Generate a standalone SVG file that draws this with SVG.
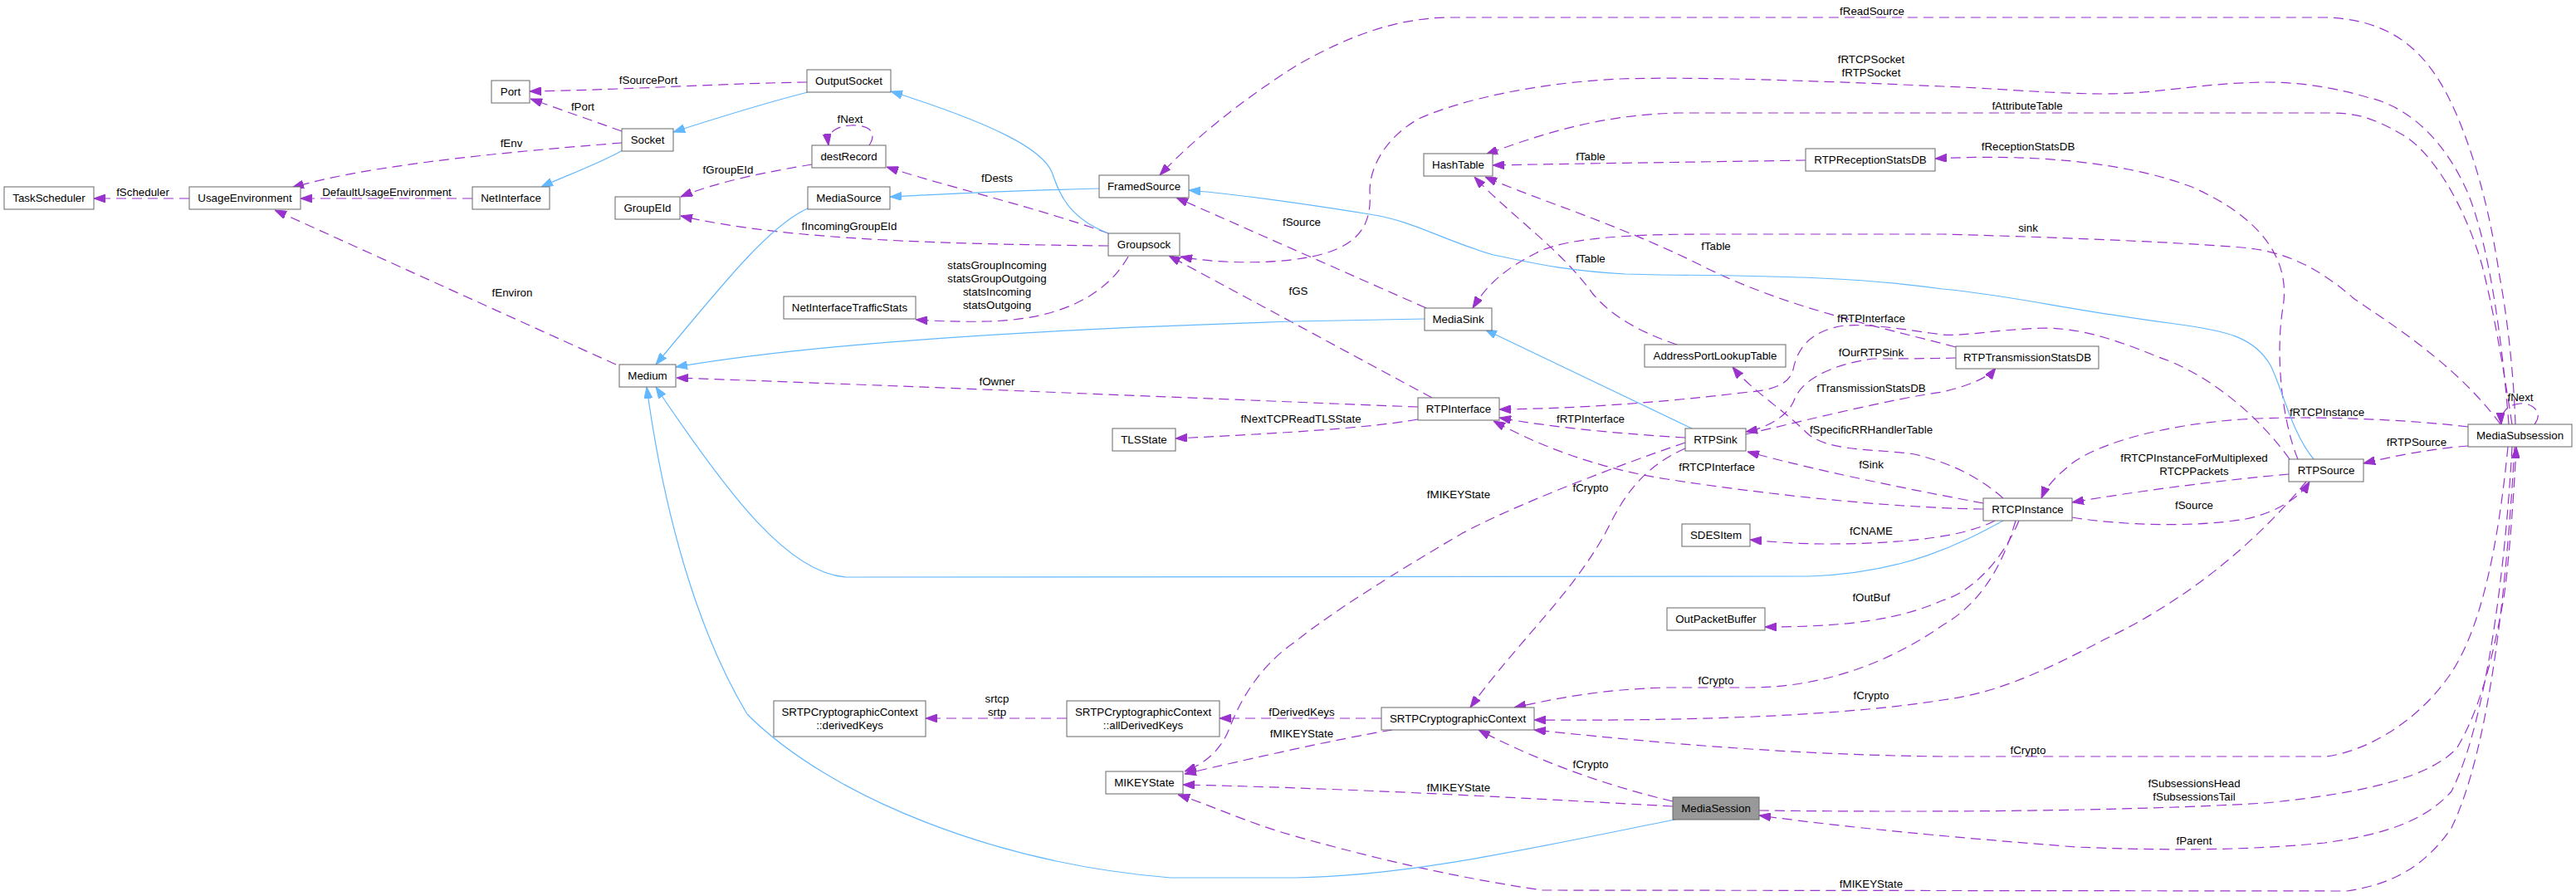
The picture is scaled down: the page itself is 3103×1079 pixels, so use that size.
<svg xmlns="http://www.w3.org/2000/svg" width="3103" height="1079" viewBox="0 0 3103 1079">
<style>
text{font-family:"Liberation Sans",Arial,Helvetica,sans-serif;font-size:13.33px;fill:#000;text-anchor:middle}
.n rect{fill:#fff;stroke:#666;stroke-width:1}
#MediaSession rect{fill:#999}
.e{fill:none;stroke:#9a32cd;stroke-width:1.2;stroke-dasharray:12,7;marker-end:url(#ap)}
.i{fill:none;stroke:#63b8ff;stroke-width:1.2;marker-end:url(#ab)}
</style>
<defs>
<marker id="ap" viewBox="0 0 14 10" refX="14" refY="5" markerWidth="14" markerHeight="10" markerUnits="userSpaceOnUse" orient="auto"><path d="M0,0L14,5L0,10z" fill="#9a32cd" stroke="#9a32cd" stroke-width="1"/></marker>
<marker id="ab" viewBox="0 0 14 10" refX="14" refY="5" markerWidth="14" markerHeight="10" markerUnits="userSpaceOnUse" orient="auto"><path d="M0,0L14,5L0,10z" fill="#63b8ff" stroke="#63b8ff" stroke-width="1"/></marker>
</defs>
<rect width="3103" height="1079" fill="#fff"/>
<g id="connectors">
<path class="e" d="M228,239 L113,239"/>
<text x="172" y="236">fScheduler</text>
<path class="e" d="M569,239 L362,239"/>
<text x="466" y="236">DefaultUsageEnvironment</text>
<path class="e" d="M749,172 C650,180 450,196 352,226"/>
<text x="616" y="177">fEnv</text>
<path class="e" d="M749,158 L639,119"/>
<text x="702" y="133">fPort</text>
<path class="e" d="M972,99 C880,100 760,108 638,110"/>
<text x="781" y="101">fSourcePort</text>
<path class="e" d="M1047,175 C1058,158 1045,150 1025,151 C1006,152 996,160 998,175"/>
<text x="1024" y="148">fNext</text>
<path class="e" d="M978,198 C930,206 865,218 820,237"/>
<text x="877" y="209">fGroupEId</text>
<path class="e" d="M1335,281 C1250,250 1130,222 1068,201"/>
<text x="1201" y="219">fDests</text>
<path class="e" d="M1335,296 C1150,294 950,290 820,260"/>
<text x="1023" y="277">fIncomingGroupEId</text>
<path class="e" d="M1359,309 C1330,360 1270,385 1190,387 C1150,388 1120,386 1103,385"/>
<text x="1201" y="324">statsGroupIncoming</text>
<text x="1201" y="340">statsGroupOutgoing</text>
<text x="1201" y="356">statsIncoming</text>
<text x="1201" y="372">statsOutgoing</text>
<path class="e" d="M742,439 L331,253"/>
<text x="617" y="357">fEnviron</text>
<path class="e" d="M3030,511 C3028,450 3020,380 3011,333 C3000,260 2985,200 2960,140 C2930,70 2890,24 2802,21 L1744,21 C1680,22 1620,45 1560,80 C1500,118 1440,165 1397,211"/>
<text x="2255" y="18">fReadSource</text>
<path class="e" d="M3022,511 C3015,420 3000,300 2973,233 C2950,180 2910,130 2851,117 C2810,105 2770,99 2729,99 C2650,100 2600,113 2535,113 C2470,113 2400,106 2340,104 C2200,98 2050,92 1950,95 C1850,100 1760,120 1709,143 C1670,165 1650,200 1650,230 C1652,260 1645,285 1610,300 C1570,318 1480,320 1422,309"/>
<text x="2254" y="76">fRTCPSocket</text>
<text x="2254" y="92">fRTPSocket</text>
<path class="e" d="M3026,511 C3015,440 3005,380 2990,320 C2970,250 2930,180 2890,160 C2860,143 2840,136 2807,136 L2023,136 C1930,138 1860,160 1790,186"/>
<text x="2442" y="132">fAttributeTable</text>
<path class="e" d="M2768,553 C2750,510 2740,430 2750,370 C2760,310 2720,260 2640,225 C2560,195 2450,185 2331,191"/>
<text x="2443" y="181">fReceptionStatsDB</text>
<path class="e" d="M2175,193 C2050,195 1900,197 1798,199"/>
<text x="1916" y="193">fTable</text>
<path class="e" d="M3012,511 C2960,440 2880,390 2836,360 C2790,320 2750,302 2700,298 C2600,290 2450,285 2340,282 L2057,282 C1950,282 1880,288 1850,305 C1810,325 1790,345 1774,371"/>
<text x="2443" y="279">sink</text>
<path class="e" d="M2020,415 C1975,400 1940,380 1918,353 C1880,300 1820,260 1776,213"/>
<text x="1916" y="316">fTable</text>
<path class="e" d="M2356,418 C2250,390 2150,370 2050,320 C1950,270 1850,240 1789,213"/>
<text x="2067" y="301">fTable</text>
<path class="e" d="M1718,371 L1417,238"/>
<text x="1568" y="272">fSource</text>
<path class="e" d="M1725,479 L1408,308"/>
<text x="1564" y="355">fGS</text>
<path class="e" d="M1708,490 C1500,482 1100,465 815,455"/>
<text x="1201" y="464">fOwner</text>
<path class="e" d="M1708,505 C1650,515 1560,521 1416,528"/>
<text x="1567" y="509">fNextTCPReadTLSState</text>
<path class="e" d="M2758,553 C2720,500 2660,450 2600,430 C2540,405 2500,395 2462,395 C2400,397 2370,405 2340,403 C2300,398 2260,390 2222,392 C2180,398 2165,420 2160,445 C2155,465 2130,470 2107,472 C2000,485 1900,492 1806,493"/>
<text x="2254" y="388">fRTPInterface</text>
<path class="e" d="M2356,431 C2320,432 2280,432 2256,432 C2200,440 2170,460 2162,480 C2155,500 2130,515 2103,520"/>
<text x="2254" y="429">fOurRTPSink</text>
<path class="e" d="M2103,523 C2180,505 2280,480 2340,472 C2370,465 2395,455 2404,443"/>
<text x="2254" y="472">fTransmissionStatsDB</text>
<path class="e" d="M2413,600 C2390,580 2360,560 2306,547 C2260,540 2200,545 2175,520 C2150,495 2110,470 2087,442"/>
<text x="2254" y="522">fSpecificRRHandlerTable</text>
<path class="e" d="M2389,606 C2330,595 2200,570 2105,544"/>
<text x="2254" y="564">fSink</text>
<path class="e" d="M2389,613 C2300,612 2157,600 2008,577 C1930,565 1860,540 1799,507"/>
<text x="2068" y="567">fRTCPInterface</text>
<path class="e" d="M2030,527 C1960,523 1870,515 1806,503"/>
<text x="1916" y="509">fRTPInterface</text>
<path class="e" d="M2030,540 C1985,560 1960,590 1940,630 C1900,710 1830,770 1771,852"/>
<text x="1916" y="592">fCrypto</text>
<path class="e" d="M2030,533 C1950,560 1820,610 1760,643 C1680,690 1600,740 1560,773 C1520,800 1495,840 1481,877 C1470,905 1450,920 1427,929"/>
<text x="1757" y="600">fMIKEYState</text>
<path class="e" d="M2403,627 C2370,645 2300,655 2200,655 C2160,655 2130,652 2108,650"/>
<text x="2254" y="644">fCNAME</text>
<path class="e" d="M2432,627 C2410,680 2370,715 2340,723 C2290,745 2230,755 2126,755"/>
<text x="2254" y="724">fOutBuf</text>
<path class="e" d="M2428,627 C2410,690 2380,730 2340,753 C2280,795 2200,828 2107,828 L2008,828 C1930,830 1880,840 1824,852"/>
<text x="2067" y="824">fCrypto</text>
<path class="e" d="M2778,580 C2720,650 2640,720 2535,770 C2450,815 2400,835 2340,843 C2200,865 2000,868 1848,867"/>
<text x="2254" y="842">fCrypto</text>
<path class="e" d="M2496,623 C2550,632 2640,636 2705,625 C2740,618 2770,600 2782,580"/>
<text x="2643" y="613">fSource</text>
<path class="e" d="M2757,571 C2680,578 2583,590 2496,605"/>
<text x="2643" y="556">fRTCPInstanceForMultiplexed</text>
<text x="2643" y="572">RTCPPackets</text>
<path class="e" d="M2973,514 C2900,505 2780,500 2700,505 C2600,512 2530,535 2500,555 C2480,570 2465,585 2459,600"/>
<text x="2803" y="501">fRTCPInstance</text>
<path class="e" d="M2973,537 C2930,540 2880,550 2847,558"/>
<text x="2911" y="537">fRTPSource</text>
<path class="e" d="M3053,511 C3064,498 3052,485 3036,486 C3022,487 3012,495 3013,511"/>
<text x="3036" y="483">fNext</text>
<path class="e" d="M2119,976 C2300,978 2540,978 2729,967 C2850,955 2930,935 2960,900 C2990,850 3005,780 3016,720 C3022,680 3028,600 3031,538"/>
<text x="2643" y="948">fSubsessionsHead</text>
<text x="2643" y="964">fSubsessionsTail</text>
<path class="e" d="M3026,538 C3020,650 3000,860 2953,953 C2920,990 2870,1005 2800,1015 C2700,1025 2600,1024 2500,1020 C2400,1012 2250,1000 2119,982"/>
<text x="2643" y="1017">fParent</text>
<path class="e" d="M3021,538 C3010,650 2990,760 2948,817 C2910,870 2850,905 2802,911 L2340,911 C2157,909 2000,895 1848,879"/>
<text x="2443" y="908">fCrypto</text>
<path class="e" d="M3029,538 C3020,700 3000,900 2953,997 C2920,1045 2880,1065 2827,1073 L1858,1072 C1760,1058 1660,1035 1560,1007 C1500,990 1460,970 1419,957"/>
<text x="2254" y="1069">fMIKEYState</text>
<path class="e" d="M2015,965 C1930,945 1850,915 1781,879"/>
<text x="1916" y="925">fCrypto</text>
<path class="e" d="M2015,971 C1850,962 1650,950 1425,945"/>
<text x="1757" y="953">fMIKEYState</text>
<path class="e" d="M1664,865 L1469,865"/>
<text x="1568" y="862">fDerivedKeys</text>
<path class="e" d="M1677,879 C1610,890 1500,915 1427,932"/>
<text x="1568" y="888">fMIKEYState</text>
<path class="e" d="M1285,865 L1115,865"/>
<text x="1201" y="846">srtcp</text>
<text x="1201" y="862">srtp</text>
<path class="i" d="M750,181 C720,198 680,212 652,225"/>
<path class="i" d="M973,111 C930,122 870,140 811,159"/>
<path class="i" d="M1335,281 C1285,262 1275,230 1267,207 C1255,180 1200,150 1073,110"/>
<path class="i" d="M1324,227 C1200,230 1120,235 1072,237"/>
<path class="i" d="M973,251 C930,270 880,330 790,439"/>
<path class="i" d="M1716,384 L1560,387 C1300,395 1000,410 814,442"/>
<path class="i" d="M2038,516 L1789,397"/>
<path class="i" d="M2787,553 C2760,520 2750,470 2735,440 C2715,405 2680,398 2620,390 C2500,375 2420,355 2340,348 C2250,335 2150,332 2000,331 L1958,330 C1880,326 1840,315 1799,307 C1740,290 1700,265 1650,258 C1600,250 1500,235 1432,229"/>
<path class="i" d="M2413,627 C2370,650 2300,690 2180,694 L1019,695 C950,690 880,600 790,466"/>
<path class="i" d="M2018,987 C1850,1020 1700,1055 1560,1057 L1410,1057 C1200,1040 1000,960 900,860 C840,760 800,620 779,466"/>
</g>
<g id="TaskScheduler" class="n"><rect x="5" y="225" width="108" height="27"/><text x="59" y="243">TaskScheduler</text></g>
<g id="UsageEnvironment" class="n"><rect x="228" y="225" width="134" height="27"/><text x="295" y="243">UsageEnvironment</text></g>
<g id="NetInterface" class="n"><rect x="569" y="225" width="93" height="27"/><text x="615.5" y="243">NetInterface</text></g>
<g id="Port" class="n"><rect x="592" y="97" width="46" height="27"/><text x="615" y="115">Port</text></g>
<g id="Socket" class="n"><rect x="749" y="155" width="62" height="27"/><text x="780" y="173">Socket</text></g>
<g id="GroupEId" class="n"><rect x="741" y="237" width="78" height="27"/><text x="780" y="255">GroupEId</text></g>
<g id="OutputSocket" class="n"><rect x="972" y="84" width="101" height="27"/><text x="1022.5" y="102">OutputSocket</text></g>
<g id="destRecord" class="n"><rect x="978" y="175" width="89" height="27"/><text x="1022.5" y="193">destRecord</text></g>
<g id="MediaSource" class="n"><rect x="973" y="225" width="99" height="27"/><text x="1022.5" y="243">MediaSource</text></g>
<g id="NetInterfaceTrafficStats" class="n"><rect x="944" y="357" width="159" height="27"/><text x="1023.5" y="375">NetInterfaceTrafficStats</text></g>
<g id="Medium" class="n"><rect x="746" y="439" width="68" height="27"/><text x="780" y="457">Medium</text></g>
<g id="FramedSource" class="n"><rect x="1324" y="211" width="108" height="27"/><text x="1378" y="229">FramedSource</text></g>
<g id="Groupsock" class="n"><rect x="1335" y="281" width="86" height="27"/><text x="1378" y="299">Groupsock</text></g>
<g id="TLSState" class="n"><rect x="1340" y="516" width="76" height="27"/><text x="1378" y="534">TLSState</text></g>
<g id="HashTable" class="n"><rect x="1715" y="185" width="83" height="27"/><text x="1756.5" y="203">HashTable</text></g>
<g id="RTPReceptionStatsDB" class="n"><rect x="2175" y="179" width="156" height="27"/><text x="2253" y="197">RTPReceptionStatsDB</text></g>
<g id="MediaSink" class="n"><rect x="1716" y="371" width="81" height="27"/><text x="1756.5" y="389">MediaSink</text></g>
<g id="AddressPortLookupTable" class="n"><rect x="1981" y="415" width="170" height="27"/><text x="2066" y="433">AddressPortLookupTable</text></g>
<g id="RTPInterface" class="n"><rect x="1708" y="479" width="98" height="27"/><text x="1757" y="497">RTPInterface</text></g>
<g id="RTPSink" class="n"><rect x="2030" y="516" width="73" height="27"/><text x="2066.5" y="534">RTPSink</text></g>
<g id="SDESItem" class="n"><rect x="2026" y="631" width="82" height="27"/><text x="2067" y="649">SDESItem</text></g>
<g id="RTPTransmissionStatsDB" class="n"><rect x="2356" y="417" width="172" height="27"/><text x="2442" y="435">RTPTransmissionStatsDB</text></g>
<g id="RTCPInstance" class="n"><rect x="2389" y="600" width="107" height="27"/><text x="2442.5" y="618">RTCPInstance</text></g>
<g id="RTPSource" class="n"><rect x="2757" y="553" width="90" height="27"/><text x="2802" y="571">RTPSource</text></g>
<g id="MediaSubsession" class="n"><rect x="2973" y="511" width="125" height="27"/><text x="3035.5" y="529">MediaSubsession</text></g>
<g id="OutPacketBuffer" class="n"><rect x="2008" y="732" width="118" height="27"/><text x="2067" y="750">OutPacketBuffer</text></g>
<g id="SRTPCryptographicContext" class="n"><rect x="1664" y="852" width="184" height="27"/><text x="1756" y="870">SRTPCryptographicContext</text></g>
<g id="MediaSession" class="n"><rect x="2015" y="960" width="104" height="27"/><text x="2067" y="978">MediaSession</text></g>
<g id="derivedKeys" class="n"><rect x="932" y="844" width="183" height="43"/><text x="1023.5" y="862">SRTPCryptographicContext</text><text x="1023.5" y="878">::derivedKeys</text></g>
<g id="allDerivedKeys" class="n"><rect x="1285" y="844" width="184" height="43"/><text x="1377" y="862">SRTPCryptographicContext</text><text x="1377" y="878">::allDerivedKeys</text></g>
<g id="MIKEYState" class="n"><rect x="1332" y="929" width="93" height="27"/><text x="1378.5" y="947">MIKEYState</text></g>
</svg>
